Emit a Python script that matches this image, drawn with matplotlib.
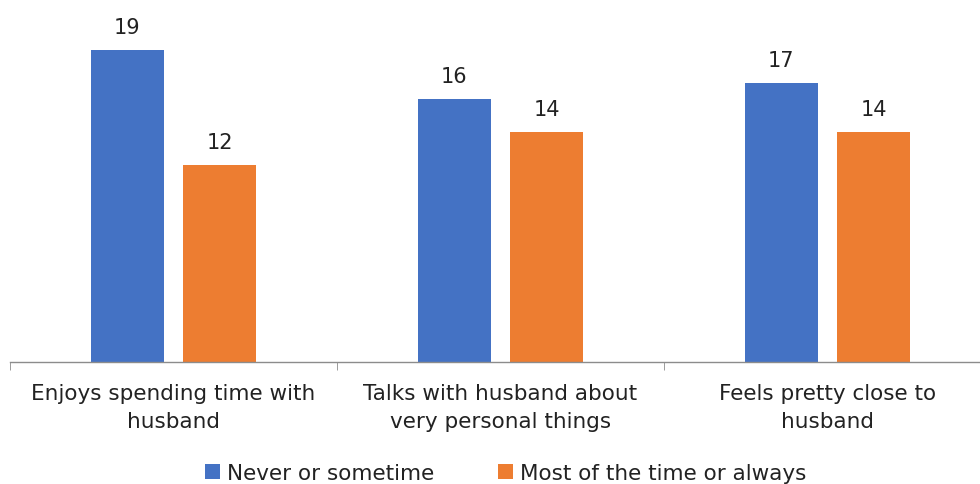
import matplotlib
matplotlib.use('Agg')
from matplotlib import pyplot as plt
import numpy as np

categories = ['Enjoys spending time with\nhusband',
              'Talks with husband about\nvery personal things',
              'Feels pretty close to\nhusband']
series_names = ['Never or sometime', 'Most of the time or always']
never_sometime = [19, 16, 17]
most_always = [12, 14, 14]

plt.rcParams['font.family'] = ['DejaVu Sans']

fig = plt.figure(figsize=(9.8, 4.85), dpi=100)
ax = fig.add_axes([10 / 980, 122 / 485, 981 / 980, 363 / 485])

x = np.arange(len(categories))
w = 0.223
off = 0.142
b1 = ax.bar(x - off, never_sometime, w, color='#4472C4', label=series_names[0])
b2 = ax.bar(x + off, most_always, w, color='#ED7D31', label=series_names[1])

for bars in (b1, b2):
    for bar in bars:
        ax.text(bar.get_x() + bar.get_width() / 2, bar.get_height() + 0.8,
                f'{bar.get_height():.0f}', ha='center', va='bottom',
                fontsize=15, color='#222222')

ax.set_xlim(-0.5, 2.5)
ax.set_ylim(0, 22.1)
ax.set_yticks([])
for s in ('top', 'right', 'left'):
    ax.spines[s].set_visible(False)
ax.spines['bottom'].set_color('#8c8c8c')
ax.spines['bottom'].set_linewidth(1)

ax.set_xticks(x)
ax.set_xticklabels(categories, fontsize=15.5, color='#222222', linespacing=1.5)
ax.tick_params(axis='x', length=0, pad=15)
ax.set_xticks([-0.5, 0.5, 1.5, 2.5], minor=True)
ax.tick_params(axis='x', which='minor', length=6, color='#8c8c8c')

fig.legend(handles=[b1, b2], labels=series_names, loc='center',
           bbox_to_anchor=(0.516, 0.022), ncol=2, frameon=False,
           fontsize=15.5, handlelength=0.7, handleheight=0.7,
           handletextpad=0.3, columnspacing=3.0, labelcolor='#222222')

fig.savefig('out.png', dpi=100)
